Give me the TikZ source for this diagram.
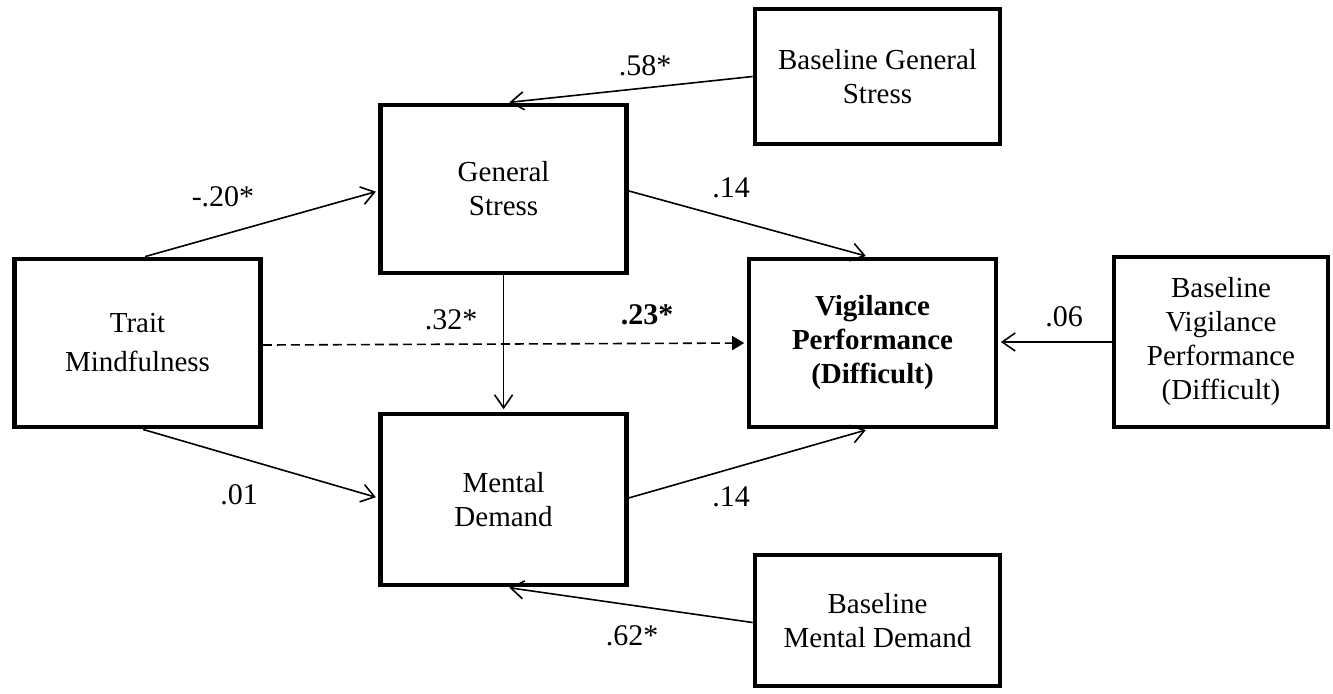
\documentclass[tikz,border=0pt]{standalone}
\usepackage{fontspec}
\setmainfont{Liberation Serif}
\usetikzlibrary{arrows.meta}
\begin{document}
\begin{tikzpicture}[x=0.5pt,y=-0.5pt,
  every node/.style={font=\fontsize{14.5}{17}\selectfont},
  var/.style={draw, line width=2.4pt, align=center, inner sep=0pt},
  arr/.style={line width=0.8pt, shorten >=1.2pt,
    -{Straight Barb[length=6.5pt,width=9pt,line width=0.8pt]}},
  dasharr/.style={line width=0.8pt, dash pattern=on 4.5pt off 2.5pt, shorten >=1.2pt,
    -{Triangle[length=6pt,width=7pt]}},
  coef/.style={inner sep=0pt, font=\fontsize{15}{17}\selectfont}]
\useasboundingbox (0,0) rectangle (1333,693);

% variables
\node[var, minimum width=123pt, minimum height=84pt] (trait) at (137.5,343) {Trait\\[2.5pt]Mindfulness};
\node[var, minimum width=123pt, minimum height=84pt] (gs) at (503.6,189) {General\\Stress};
\node[var, minimum width=123pt, minimum height=85.5pt] (md) at (503.6,499.5) {Mental\\Demand};
\node[var, minimum width=123.5pt, minimum height=84pt] (vp) at (872.5,343) {\textbf{Vigilance}\\\textbf{Performance}\\\textbf{(Difficult)}};
\node[var, minimum width=122.5pt, minimum height=67.5pt] (bgs) at (877.5,76.5) {Baseline General\\Stress};
\node[var, minimum width=107pt, minimum height=85pt] (bvp) at (1221,342) {Baseline\\Vigilance\\Performance\\(Difficult)};
\node[var, minimum width=122.5pt, minimum height=65.5pt] (bmd) at (877.5,620.5) {Baseline\\Mental Demand};

% paths
\draw[arr] ([xshift=3.75pt]trait.north) -- ([yshift=-1pt]gs.west);
\draw[arr] (bgs.west) -- ([xshift=1.7pt]gs.north);
\draw[arr] ([yshift=-1pt]gs.east) -- ([xshift=-2.2pt]vp.north);
\draw[arr, line width=0.6pt] (gs.south) -- (md.north);
\draw[dasharr] ([yshift=-1pt]trait.east) -- (vp.west);
\draw[arr] (bvp.west) -- ([yshift=0.5pt]vp.east);
\draw[arr] ([xshift=2.75pt]trait.south) -- ([yshift=0.8pt]md.west);
\draw[arr] ([yshift=0.8pt]md.east) -- ([xshift=-2.2pt]vp.south);
\draw[arr] ([yshift=-1pt]bmd.west) -- ([xshift=1.7pt]md.south);

% coefficients
\node[coef] (c1) at (223,197) {-.20*};
\node[coef] (c2) at (645,66) {.58*};
\node[coef] (c3) at (731,188) {.14};
\node[coef] (c4) at (451,320) {.32*};
\node[coef] (c5) at (647,315) {\textbf{.23*}};
\node[coef] (c6) at (1064,317) {.06};
\node[coef] (c7) at (239,495) {.01};
\node[coef] (c8) at (731,497) {.14};
\node[coef] (c9) at (632,636) {.62*};
\end{tikzpicture}
\end{document}
